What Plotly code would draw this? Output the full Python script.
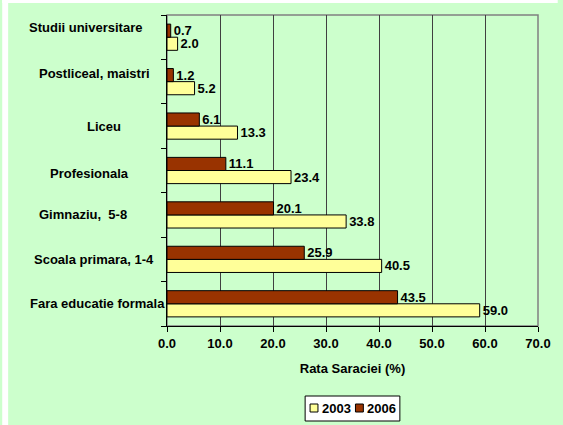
import plotly.graph_objects as go

# Data (listed bottom to top, as drawn)
categories = ["Fara educatie formala", "Scoala primara, 1-4", "Gimnaziu,  5-8",
              "Profesionala", "Liceu", "Postliceal, maistri", "Studii universitare"]
values_2003 = [59.0, 40.5, 33.8, 23.4, 13.3, 5.2, 2.0]
values_2006 = [43.5, 25.9, 20.1, 11.1, 6.1, 1.2, 0.7]
series_names = ["2003", "2006"]
x_ticks = [0, 10, 20, 30, 40, 50, 60, 70]
x_tick_labels = ["0.0", "10.0", "20.0", "30.0", "40.0", "50.0", "60.0", "70.0"]

# Styling for category labels (pixel centers / vertical nudges)
label_center_px = [97, 93, 82, 88, 103, 94, 84]
label_yshift = [0, 0, 0, -3, 0, 8, 10]

W, H = 563, 425
L, R, T, B = 167, 20, 15, 99
PW, PH = W - L - R, H - T - B

FONT = "Arial, Liberation Sans, sans-serif"
FS = 13
GREEN = "#CCFFCC"
COLORS = ["#FFFF99", "#993300"]


def px(x):
    return (x - L) / PW


def py(y):
    return (T + PH - y) / PH


fig = go.Figure()
for name, vals, col in zip(series_names, [values_2003, values_2006], COLORS):
    fig.add_trace(go.Bar(
        y=categories, x=vals, name=name, orientation="h",
        marker=dict(color=col, line=dict(color="black", width=1)),
        texttemplate="<b>%{x:.1f}</b>", textposition="outside", constraintext="none",
        textfont=dict(family=FONT, size=FS, color="black"), cliponaxis=False,
        showlegend=False,
    ))

annotations = []
for cat, cx, ys in zip(categories, label_center_px, label_yshift):
    annotations.append(dict(
        text="<b>%s</b>" % cat, x=px(cx), xref="paper", y=cat, yref="y",
        xanchor="center", yanchor="middle", showarrow=False, yshift=ys,
        font=dict(family=FONT, size=FS, color="black"),
    ))

shapes = [
    # white outer strips (left and top), rest of page is green
    dict(type="rect", xref="paper", yref="paper",
         x0=px(0), x1=px(6), y0=py(H), y1=py(0),
         fillcolor="white", line=dict(width=0), layer="below"),
    dict(type="rect", xref="paper", yref="paper",
         x0=px(0), x1=px(W), y0=py(3), y1=py(0),
         fillcolor="white", line=dict(width=0), layer="below"),
    # plot frame
    dict(type="rect", xref="paper", yref="paper", x0=0, x1=1, y0=0, y1=1,
         fillcolor="rgba(0,0,0,0)", line=dict(color="#808080", width=1.5), layer="below"),
    # legend box
    dict(type="rect", xref="paper", yref="paper", x0=px(307), x1=px(403),
         y0=py(421), y1=py(396), fillcolor="white", line=dict(color="black", width=1)),
]
# legend entries
leg_sq_x = [312, 358]
for name, col, sx in zip(series_names, COLORS, leg_sq_x):
    shapes.append(dict(type="rect", xref="paper", yref="paper",
                       x0=px(sx), x1=px(sx + 8), y0=py(412), y1=py(404),
                       fillcolor=col, line=dict(color="black", width=1)))
    annotations.append(dict(text="<b>%s</b>" % name, x=px(sx + 10), xref="paper",
                            y=py(408.5), yref="paper", xanchor="left", yanchor="middle",
                            showarrow=False, font=dict(family=FONT, size=FS, color="black")))

fig.update_layout(
    width=W, height=H,
    margin=dict(l=L, r=R, t=T, b=B, pad=0),
    paper_bgcolor=GREEN, plot_bgcolor=GREEN,
    barmode="group", bargap=0.41, bargroupgap=0,
    font=dict(family=FONT, size=FS, color="black"),
    showlegend=False,
    xaxis=dict(range=[0, 70], tickvals=x_ticks,
               ticktext=["<b>%s</b>" % t for t in x_tick_labels],
               showgrid=True, gridcolor="#404040", gridwidth=1,
               showline=True, linecolor="black", linewidth=1,
               ticks="outside", ticklen=5, tickcolor="black",
               tickfont=dict(family=FONT, size=FS, color="black"),
               zeroline=False, fixedrange=True,
               title=dict(text="<b>Rata Saraciei (%)</b>", standoff=14,
                          font=dict(family=FONT, size=FS, color="black"))),
    yaxis=dict(type="category", categoryorder="array", categoryarray=categories,
               showticklabels=False, showgrid=False,
               showline=True, linecolor="black", linewidth=1,
               ticks="outside", ticklen=5, tickcolor="black", tickson="boundaries",
               fixedrange=True),
    annotations=annotations, shapes=shapes,
)

fig.write_html(
    "out.html",
    config={"displayModeBar": False},
    post_script=("document.documentElement.style.margin='0';"
                 "document.documentElement.style.overflow='hidden';"
                 "document.body.style.margin='0';"
                 "document.body.style.overflow='hidden';"),
)
